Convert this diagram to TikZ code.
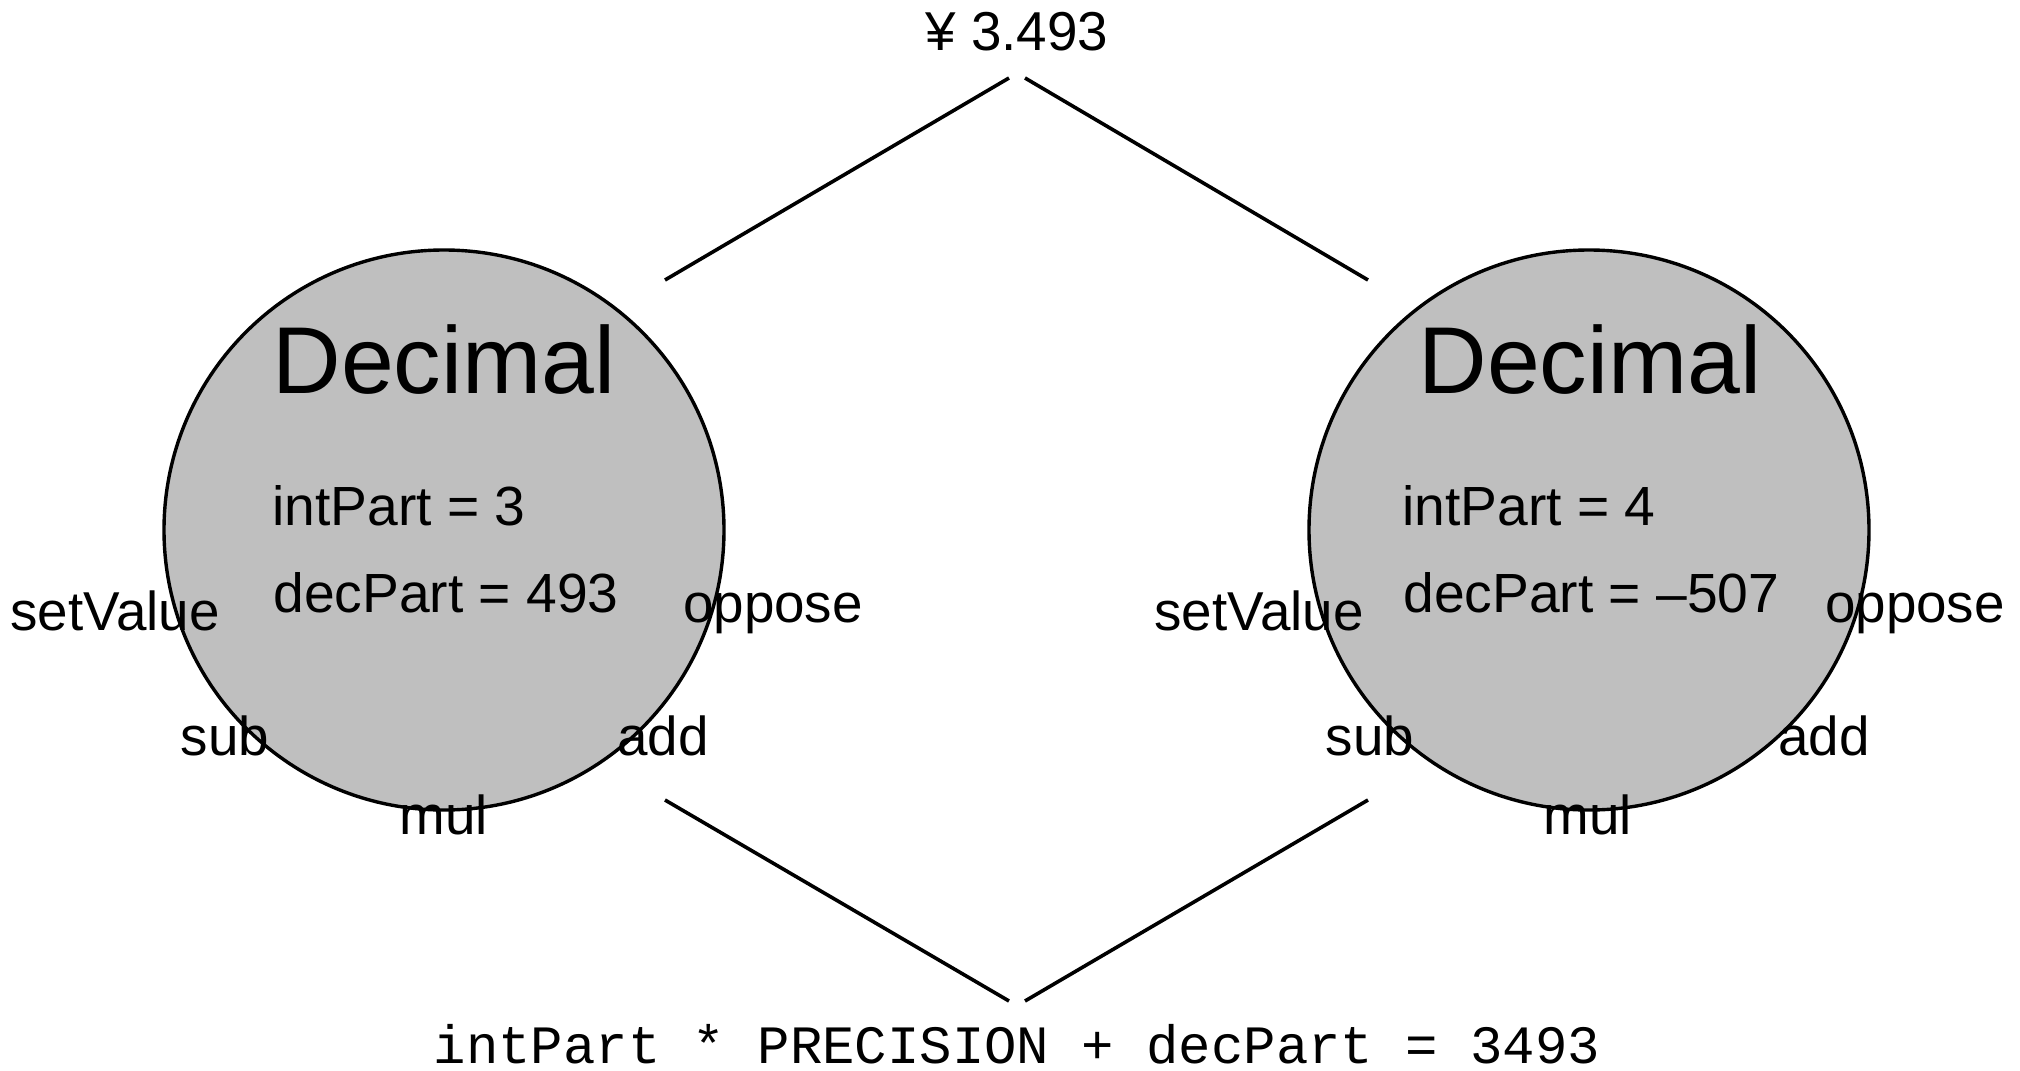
\documentclass[tikz,border=0pt]{standalone}
\usepackage{fontspec}
\setmainfont{Liberation Sans}
\setmonofont{Liberation Mono}
\begin{document}
\begin{tikzpicture}[x=0.5pt,y=-0.5pt,
  obj/.style={circle, draw=black, line width=1.7pt, fill={rgb,255:red,191;green,191;blue,191}, minimum size=280pt, inner sep=0pt},
  lbl/.style={font=\fontsize{27.4}{32}\selectfont, anchor=base, inner sep=0pt},
  fld/.style={font=\fontsize{27.6}{32}\selectfont, anchor=base west, inner sep=0pt},
  ttl/.style={font=\fontsize{47.5}{56}\selectfont, anchor=base, inner sep=0pt},
  code/.style={font=\ttfamily\fontsize{27}{32}\selectfont, anchor=base, inner sep=0pt},
  link/.style={line width=1.8pt}]
\useasboundingbox (0,0) rectangle (2020,1071);
% circles
\node[obj] (c1) at (444,530) {};
\node[obj] (c2) at (1589,530) {};
% titles and fields
\node[ttl] (t1) at (444,393) {Decimal};
\node[ttl] (t2) at (1590,393) {Decimal};
\node[fld] (i1) at (272,525) {intPart = 3};
\node[fld] (d1) at (273,612) {decPart = 493};
\node[fld] (i2) at (1402,525) {intPart = 4};
\node[fld] (d2) at (1403,612) {decPart = –507};
% methods left
\node[lbl] (sv1) at (115,630) {setValue};
\node[lbl] (op1) at (773,622) {oppose};
\node[lbl] (sb1) at (225,755) {sub};
\node[lbl] (ad1) at (663,755) {add};
\node[lbl] (ml1) at (444,834) {mul};
% methods right
\node[lbl] (sv2) at (1259,630) {setValue};
\node[lbl] (op2) at (1915,622) {oppose};
\node[lbl] (sb2) at (1370,755) {sub};
\node[lbl] (ad2) at (1824,755) {add};
\node[lbl] (ml2) at (1588,834) {mul};
% top and bottom texts
\node[lbl] (val) at (1017,50) {¥ 3.493};
\node[code] (frm) at (1017,1063) {intPart * PRECISION + decPart = 3493};
% connectors
\coordinate (tl1) at (665,280);
\coordinate (tl2) at (1009,78);
\coordinate (tr1) at (1025,78);
\coordinate (tr2) at (1368,280);
\coordinate (bl1) at (665,800);
\coordinate (bl2) at (1009,1001);
\coordinate (br1) at (1025,1001);
\coordinate (br2) at (1368,800);
\draw[link] (tl1) -- (tl2);
\draw[link] (tr1) -- (tr2);
\draw[link] (bl1) -- (bl2);
\draw[link] (br1) -- (br2);
\end{tikzpicture}
\end{document}
